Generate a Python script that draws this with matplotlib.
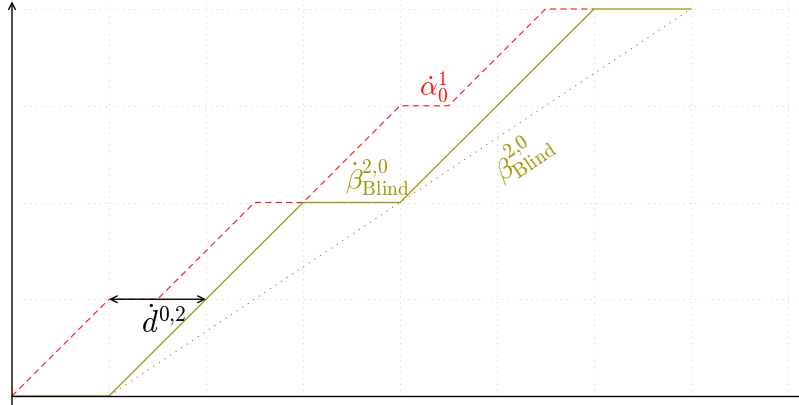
import matplotlib
matplotlib.use("Agg")
import matplotlib.pyplot as plt
import numpy as np

plt.rcParams["mathtext.fontset"] = "cm"
plt.rcParams["font.family"] = "serif"
plt.rcParams["font.serif"] = ["DejaVu Serif"]
plt.rcParams["lines.scale_dashes"] = False

# Piecewise-linear curves (time on x, cumulative amount on y)
alpha_x = [0, 1, 1.5, 2.5, 3, 4, 4.5, 5.5, 6]
alpha_y = [0, 1, 1, 2, 2, 3, 3, 4, 4]

beta_x = [0, 1, 3, 4, 6, 7]
beta_y = [0, 0, 2, 2, 4, 4]

blind_x = [1, 7]
blind_y = [0, 4]

delay_start = 1
delay_end = 2
delay_level = 1

RED = "#ff1414"
OLIVE = "#9e9400"

fig = plt.figure(figsize=(7.99, 4.06), dpi=100)
ax = fig.add_axes([0, 0, 1, 1])
ax.set_xlim(-12 / 97, 787 / 97)
ax.set_ylim(-9 / 96.75, 397 / 96.75)
ax.axis("off")

# dotted grid
for gx in range(1, 9):
    ax.plot([gx, gx], [0, 4.2], color="#c8c8c8", lw=0.7, dashes=(0.6, 3.6), zorder=0)
for gy in range(1, 5):
    ax.plot([0, 8.3], [gy, gy], color="#c8c8c8", lw=0.7, dashes=(0.6, 3.6), zorder=0)

# axes with arrow
ax.plot([0, 8.3], [0, 0], color="black", lw=1.0, zorder=3, solid_capstyle="butt")
ax.annotate("", xy=(0, 4.08), xytext=(0, -0.2),
            arrowprops=dict(arrowstyle="->", lw=1.0, color="black",
                            shrinkA=0, shrinkB=0, mutation_scale=12))

ax.plot(alpha_x, alpha_y, color=RED, lw=0.8, dashes=(4.5, 3.0), zorder=2)
ax.plot(beta_x, beta_y, color=OLIVE, lw=0.9, zorder=2)
ax.plot(blind_x, blind_y, color=OLIVE, lw=0.9, dashes=(0.8, 4.0), zorder=2)

ax.annotate("", xy=(delay_end, delay_level), xytext=(delay_start, delay_level),
            arrowprops=dict(arrowstyle="<->", lw=1.0, color="black",
                            shrinkA=0, shrinkB=0, mutation_scale=12), zorder=4)

fs = 20
ax.text(1.56, 0.76, r"$\dot{d}^{0{,}2}$", fontsize=22, ha="center", va="center", color="black")
ax.text(3.77, 2.27, r"$\dot{\beta}^{2{,}0}_{\mathrm{Blind}}$", fontsize=fs, ha="center",
        va="center", color=OLIVE)
ax.text(4.35, 3.2, r"$\dot{\alpha}^{1}_{0}$", fontsize=fs, ha="center", va="center", color=RED)
ax.text(5.26, 2.49, r"$\beta^{2{,}0}_{\mathrm{Blind}}$", fontsize=fs, ha="center", va="center",
        color=OLIVE, rotation=33.7, rotation_mode="anchor")

fig.savefig("out.png", dpi=100)
